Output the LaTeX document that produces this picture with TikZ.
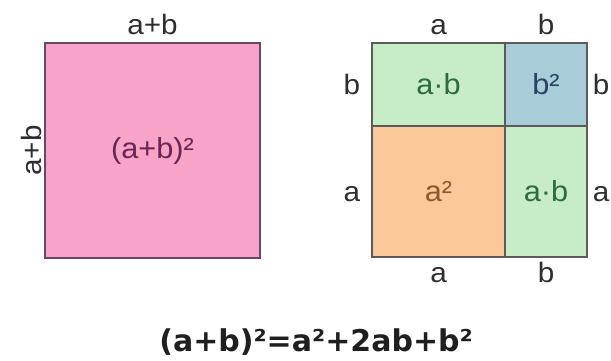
\documentclass[tikz,border=0pt]{standalone}
\usepackage{fontspec}
\setmainfont{Liberation Sans}[FakeStretch=1.06]
\newfontfamily\eqfont{DejaVu Sans}
\usepackage{xcolor}
\definecolor{sqpink}{HTML}{F8A3C8}
\definecolor{sqgreen}{HTML}{C6EDC6}
\definecolor{sqblue}{HTML}{A8CCD8}
\definecolor{sqorange}{HTML}{FBC999}
\definecolor{edgegray}{HTML}{5E5A5C}
\definecolor{txtpurple}{HTML}{6A2550}
\definecolor{txtgreen}{HTML}{2F6A3A}
\definecolor{txtnavy}{HTML}{2A4262}
\definecolor{txtbrown}{HTML}{8A5A2C}
\usepackage{tikz}
\usetikzlibrary{positioning}

\begin{document}
\begin{tikzpicture}[
  x=1pt,y=1pt,
  cell/.style={rectangle,draw=edgegray,line width=1.4pt,inner sep=0pt,font=\fontsize{29}{29}\selectfont},
  side/.style={font=\fontsize{28}{28}\selectfont,text=black!82,inner sep=0pt,text height=20pt,text depth=0pt},
]
\useasboundingbox (0,0) rectangle (611,360);
\node[cell,fill=sqpink,text=txtpurple,draw=edgegray!80!violet,minimum width=215,minimum height=215] (big) at (152.5,209.5) {(a+b)²};
\node[side,above=8pt of big] (bigtop) {a+b};
\node[side,rotate=90,left=3pt of big,anchor=south] (bigleft) {a+b};

\node[cell,fill=sqgreen,text=txtgreen,minimum width=133,minimum height=83] (ab1) at (438.5,275.5) {a·b};
\node[cell,fill=sqblue,text=txtnavy,minimum width=82,minimum height=83] (bb) at (546,275.5) {b²};
\node[cell,fill=sqorange,text=txtbrown,minimum width=133,minimum height=131] (aa) at (438.5,168.5) {a²};
\node[cell,fill=sqgreen,text=txtgreen,minimum width=82,minimum height=131] (ab2) at (546,168.5) {a·b};

\node[side,above=8pt of ab1] (topa) {a};
\node[side,above=8pt of bb] (topb) {b};
\node[side,below=5pt of aa] (bota) {a};
\node[side,below=5pt of ab2] (botb) {b};
\node[side,left=11pt of ab1] (leftb) {b};
\node[side,left=11pt of aa] (lefta) {a};
\node[side,right=5pt of bb] (rightb) {b};
\node[side,right=5pt of ab2] (righta) {a};

\node[font=\eqfont\bfseries\fontsize{30}{30}\selectfont,text=black!88] (eq) at (316,18) {(a+b)²=a²+2ab+b²};
\end{tikzpicture}
\end{document}
